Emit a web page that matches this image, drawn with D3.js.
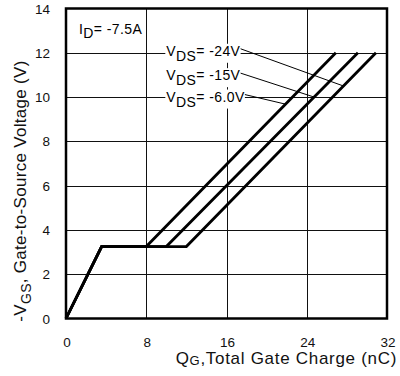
<!DOCTYPE html>
<html>
<head>
<meta charset="utf-8">
<script src="https://cdn.jsdelivr.net/npm/d3@7/dist/d3.min.js"></script>
<style>
  html, body { margin: 0; padding: 0; background: #fff; }
  svg { display: block; font-family: "Liberation Sans", Arial, Helvetica, sans-serif; }
</style>
</head>
<body>
<svg id="chart" width="400" height="376"></svg>
<script>
// ---- data ----
const xTicks = [0, 8, 16, 24, 32];
const yTicks = [0, 2, 4, 6, 8, 10, 12, 14];
const seriesNames = ["-24V", "-15V", "-6.0V"];
// gate charge (nC) at each vertex of each curve
const qgVds24 = [0, 3.55, 12.0, 30.9];
const qgVds15 = [0, 3.55, 10.0, 29.1];
const qgVds6  = [0, 3.55, 8.0, 26.9];
// gate-to-source voltage (-V) at those vertices (shared)
const vgsPoints = [0, 3.25, 3.25, 12];
// leader line targets: voltage on each curve where leader touches
const leaderVgs = [10.5, 10.0, 9.68];
const idLabel = "-7.5A";

// ---- layout ----
const svg = d3.select("#chart");
const x = d3.scaleLinear().domain([0, 32]).range([66, 387]);
const y = d3.scaleLinear().domain([0, 14]).range([318.5, 8.5]);

// grid
const grid = svg.append("g").attr("stroke", "#111").attr("stroke-width", 1).attr("shape-rendering", "crispEdges");
grid.selectAll("line.v").data(xTicks.slice(1, -1)).join("line")
  .attr("x1", d => Math.round(x(d)) + 0.5).attr("x2", d => Math.round(x(d)) + 0.5)
  .attr("y1", y(14)).attr("y2", y(0));
grid.selectAll("line.h").data(yTicks.slice(1, -1)).join("line")
  .attr("y1", d => Math.round(y(d)) + 0.5).attr("y2", d => Math.round(y(d)) + 0.5)
  .attr("x1", x(0)).attr("x2", x(32));

// curves
const qgSeries = [qgVds24, qgVds15, qgVds6];
const line = d3.line().x(d => x(d[0])).y(d => y(d[1]));
const curves = qgSeries.map(q => q.map((v, i) => [v, vgsPoints[i]]));
svg.append("g").selectAll("path").data(curves).join("path")
  .attr("d", line).attr("fill", "none").attr("stroke", "#000")
  .attr("stroke-width", 2.8).attr("stroke-linejoin", "miter");

// interpolate a curve's qg at given vgs on rising section
function qgAt(q, v) {
  const q0 = q[2], q1 = q[3], v0 = vgsPoints[2], v1 = vgsPoints[3];
  return q0 + (v - v0) / (v1 - v0) * (q1 - q0);
}

// labels
const labelBaselines = [y(12) + 3, y(10.9) + 3, y(10) + 4.5];
const labelX = x(10);
const labelG = svg.append("g");
const leaderStarts = [];
seriesNames.forEach((name, i) => {
  const g = labelG.append("g");
  const bg = g.append("rect").attr("fill", "#fff");
  const t = g.append("text")
    .attr("x", labelX).attr("y", labelBaselines[i])
    .attr("font-size", 14).attr("letter-spacing", 0.4).attr("fill", "#000");
  t.append("tspan").text("V");
  t.append("tspan").attr("dy", 5).text("DS");
  t.append("tspan").attr("dy", -5).text("= " + name);
  const bb = t.node().getBBox();
  bg.attr("x", bb.x - 1).attr("y", bb.y + 1).attr("width", bb.width + 1).attr("height", bb.height - 2);
  leaderStarts.push([bb.x + bb.width, labelBaselines[i] - 7]);
});
// leader lines
svg.append("g").selectAll("line").data(seriesNames).join("line")
  .attr("x1", (d, i) => leaderStarts[i][0])
  .attr("y1", (d, i) => leaderStarts[i][1])
  .attr("x2", (d, i) => x(qgAt(qgSeries[i], leaderVgs[i])))
  .attr("y2", (d, i) => y(leaderVgs[i]))
  .attr("stroke", "#000").attr("stroke-width", 1);

// ID label
const idt = svg.append("text").attr("x", 79).attr("y", 33.5)
  .attr("font-size", 14).attr("letter-spacing", 0.4).attr("fill", "#000");
idt.append("tspan").text("I");
idt.append("tspan").attr("dy", 4).text("D");
idt.append("tspan").attr("dy", -4).text("= " + idLabel);

// frame
svg.append("rect").attr("x", x(0)).attr("y", y(14)).attr("width", x(32) - x(0)).attr("height", y(0) - y(14))
  .attr("fill", "none").attr("stroke", "#000").attr("stroke-width", 2.5);

// tick labels
svg.append("g").selectAll("text").data(yTicks).join("text")
  .attr("x", 50).attr("y", d => y(d) + 5)
  .attr("text-anchor", "end").attr("font-size", 13.5).attr("fill", "#111")
  .text(d => d);
svg.append("g").selectAll("text").data(xTicks).join("text")
  .attr("x", d => x(d) + 1).attr("y", 346.5)
  .attr("text-anchor", "middle").attr("font-size", 13.5).attr("fill", "#111")
  .text(d => d);

// axis titles
const xt = svg.append("text").attr("x", 397).attr("y", 363.5).attr("text-anchor", "end")
  .attr("font-size", 17).attr("letter-spacing", 0.7).attr("fill", "#111");
xt.append("tspan").text("Q");
xt.append("tspan").attr("font-size", 13).attr("dy", 1).text("G");
xt.append("tspan").attr("dy", -1).text(",Total Gate Charge (nC)");

const yt = svg.append("text").attr("transform", "translate(26,191) rotate(-90)")
  .attr("text-anchor", "middle").attr("font-size", 17).attr("letter-spacing", 0.3).attr("fill", "#111");
yt.append("tspan").text("-V");
yt.append("tspan").attr("font-size", 14).attr("dy", 5).text("GS");
yt.append("tspan").attr("dy", -5).text(", Gate-to-Source Voltage (V)");
</script>
</body>
</html>
